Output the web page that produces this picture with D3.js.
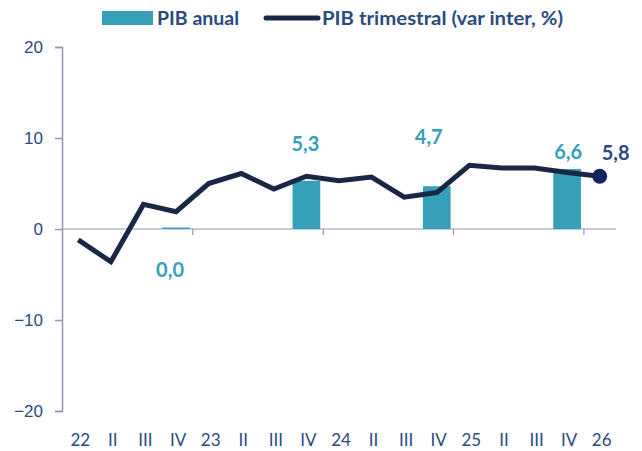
<!DOCTYPE html>
<html>
<head>
<meta charset="utf-8">
<script src="https://d3js.org/d3.v7.min.js"></script>
<style>
  body { margin: 0; background: #fff; }
  svg { font-family: Lato, "Open Sans", sans-serif; }
  .tick text { fill: #2b4a80; font-size: 17px; }
</style>
</head>
<body>
<svg width="642" height="451"></svg>
<script>
// quarters on the x axis
var quarters = ['22','II','III','IV','23','II','III','IV','24','II','III','IV','25','II','III','IV','26'];
// quarterly GDP, year on year %
var pibTrim = [-1.2, -3.6, 2.7, 1.9, 5.0, 6.1, 4.4, 5.8, 5.3, 5.7, 3.5, 4.0, 7.0, 6.7, 6.7, 6.2, 5.8];
// annual GDP, drawn on the IV quarter of each year
var anualIdx = [3, 7, 11, 15];
var pibAnual = [0.0, 5.3, 4.7, 6.6];
var yTicks = [-20, -10, 0, 10, 20];

var teal = '#36a0b9', navy = '#1a2744', txt = '#2b4a80', axisCol = '#8f98b0';

var svg = d3.select('svg');

var x = d3.scaleBand()
  .domain(d3.range(quarters.length))
  .range([62, 616])
  .padding(0);

var y = d3.scaleLinear()
  .domain([-20, 20])
  .range([411, 47]);

var cx = function (i) { return x(i) + x.bandwidth() / 2; };

// y axis
var yAxis = svg.append('g')
  .attr('transform', 'translate(62,0)')
  .call(d3.axisLeft(y).tickValues(yTicks).tickSize(7).tickPadding(12));
yAxis.select('.domain').attr('stroke', axisCol).attr('stroke-width', 1.5);
yAxis.selectAll('.tick line').attr('stroke', axisCol).attr('stroke-width', 1.5);

// zero line with year separators
var xAxis = svg.append('g')
  .attr('transform', 'translate(0,' + y(0) + ')')
  .call(d3.axisBottom(x)
    .tickValues([4, 8, 12, 16])
    .tickSize(6)
    .tickFormat(''));
xAxis.select('.domain').attr('stroke', axisCol).attr('stroke-width', 1.2).attr('d', 'M62,0H616');
xAxis.selectAll('.tick').attr('transform', function (d) { return 'translate(' + (x(d) + 0.5) + ',0)'; });
xAxis.selectAll('.tick line').attr('stroke', axisCol).attr('stroke-width', 1.2);

// category labels at the bottom
svg.append('g')
  .selectAll('text')
  .data(quarters)
  .join('text')
  .attr('x', function (d, i) { return cx(i) + 2; })
  .attr('y', 446)
  .attr('text-anchor', 'middle')
  .attr('fill', txt)
  .style('font-size', '17px')
  .text(function (d) { return d; });

// annual bars
var bw = x.bandwidth() * 0.85;
svg.append('g')
  .selectAll('rect')
  .data(pibAnual)
  .join('rect')
  .attr('x', function (d, i) { return cx(anualIdx[i]) - bw / 2; })
  .attr('y', function (d) { return Math.min(y(d), y(0) - 1.5); })
  .attr('width', bw)
  .attr('height', function (d) { return Math.max(y(0) - y(d), 1.5); })
  .attr('fill', teal);

// quarterly line
var line = d3.line()
  .x(function (d, i) { return cx(i); })
  .y(function (d) { return y(d); });

svg.append('path')
  .datum(pibTrim)
  .attr('d', line)
  .attr('fill', 'none')
  .attr('stroke', navy)
  .attr('stroke-width', 5)
  .attr('stroke-linejoin', 'miter');

var last = pibTrim.length - 1;
svg.append('circle')
  .attr('cx', cx(last))
  .attr('cy', y(pibTrim[last]))
  .attr('r', 7.5)
  .attr('fill', '#0f2460');

// bar labels, nudged so they clear the line
var labelDx = [-6, -1, -8, 1];
var labelDy = [48, -30, -42, -10];
svg.append('g')
  .selectAll('text')
  .data(pibAnual)
  .join('text')
  .attr('x', function (d, i) { return cx(anualIdx[i]) + labelDx[i]; })
  .attr('y', function (d, i) { return y(d) + labelDy[i]; })
  .attr('text-anchor', 'middle')
  .attr('fill', teal)
  .style('font-size', '20px')
  .style('font-weight', 700)
  .text(function (d) { return d3.format('.1f')(d).replace('.', ','); });

svg.append('text')
  .attr('x', cx(last) + 16)
  .attr('y', y(pibTrim[last]) - 16)
  .attr('text-anchor', 'middle')
  .attr('fill', txt)
  .style('font-size', '20px')
  .style('font-weight', 700)
  .text(d3.format('.1f')(pibTrim[last]).replace('.', ','));

// legend
var lg = svg.append('g');
lg.append('rect').attr('x', 102).attr('y', 11).attr('width', 51).attr('height', 14).attr('fill', teal);
lg.append('text').attr('x', 157).attr('y', 25).attr('fill', txt)
  .style('font-size', '19.5px').style('font-weight', 700).text('PIB anual');
lg.append('line').attr('x1', 266).attr('x2', 318).attr('y1', 18).attr('y2', 18)
  .attr('stroke', navy).attr('stroke-width', 5).attr('stroke-linecap', 'round');
lg.append('text').attr('x', 322).attr('y', 25).attr('fill', txt)
  .style('font-size', '19.5px').style('font-weight', 700)
  .attr('textLength', 241).attr('lengthAdjust', 'spacingAndGlyphs')
  .text('PIB trimestral (var inter, %)');
</script>
</body>
</html>
